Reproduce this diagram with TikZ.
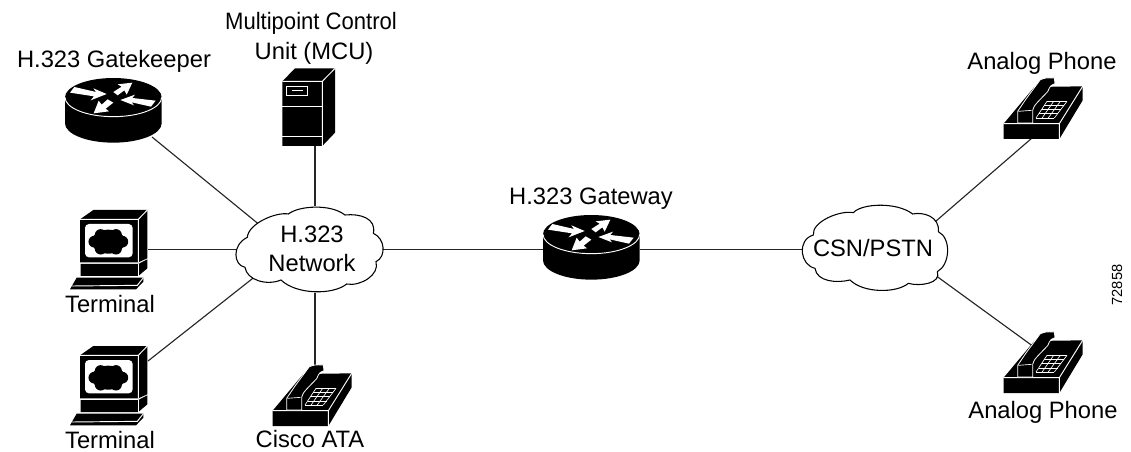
\documentclass[tikz,border=0pt]{standalone}
\usepackage{fontspec}
\setmainfont{Liberation Sans}
\tikzset{
  iconbox/.style={inner sep=0pt,outer sep=0pt},
  link/.style={line width=.85pt,draw=black!85},
  cloudline/.style={line width=.8pt,draw=black,fill=white},
  lab/.style={anchor=base,inner sep=0pt,font=\fontsize{17.8}{20}\selectfont},
  local/.style={x=.25pt,y=-.25pt},
  wl/.style={draw=white,line width=.7pt}
}
\newcommand\routericon[2]{\begin{scope}[shift={(#1,#2)},local]
  \fill[black] (75,82) .. controls (75,50) and (140,24) .. (220,24) .. controls (300,24) and (365,50) .. (365,82) -- (365,160) .. controls (365,192) and (300,218) .. (220,218) .. controls (140,218) and (75,192) .. (75,160) -- cycle;
  \draw[wl] (75,82) .. controls (75,114) and (140,140) .. (220,140) .. controls (300,140) and (365,114) .. (365,82);
  \fill[white] (90,68) -- (103,51) -- (168,66) -- (160,55) -- (200,72) -- (152,91) -- (162,79) -- cycle;
  \fill[white] (220,66) -- (245,50) -- (233,43) -- (277,38) -- (260,74) -- (253,61) -- (233,76) -- cycle;
  \fill[white] (203,88) -- (220,98) -- (197,116) -- (207,124) -- (161,130) -- (176,92) -- (185,104) -- cycle;
  \fill[white] (347,92) -- (333,110) -- (275,97) -- (282,106) -- (241,90) -- (285,74) -- (277,84) -- cycle;
\end{scope}}
\newcommand\termicon[2]{\begin{scope}[shift={(#1,#2)},local]
  \fill[black] (60,58) -- (100,30) -- (262,30) -- (262,175) -- (235,187) -- (60,187) -- cycle;
  \draw[wl] (235,58) -- (262,30) (60,58) -- (235,58) -- (235,187);
  \fill[white,rounded corners=3pt] (75,72) rectangle (218,172);
  \fill[black] (145,125) ellipse [x radius=12.5pt,y radius=9pt];
  \foreach \a/\b in {103/125,122/105,168/105,187/125,168/146,122/146}
    \fill[black] (\a,\b) circle [radius=4.4pt];
  \fill[black] (62,192) -- (235,192) -- (262,178) -- (262,205) -- (235,228) -- (62,228) -- cycle;
  \draw[wl] (235,192) -- (235,228);
  \fill[black] (50,233) -- (250,233) -- (250,245) -- (228,268) -- (30,268) -- cycle;
  \draw[wl] (36,258) -- (232,256) -- (250,233);
\end{scope}}
\newcommand\phoneicon[2]{\begin{scope}[shift={(#1,#2)},local]
  \fill[black] (38,182) -- (130,72) -- (275,70) -- (275,112) -- (205,228) -- (38,228) -- cycle;
  \draw[wl] (38,182) -- (205,182) -- (275,70) (205,182) -- (205,228);
  \filldraw[fill=black,draw=white,line width=.6pt] (148,50) .. controls (165,44) .. (190,45) -- (192,62) .. controls (178,68) .. (170,86) -- (145,112) .. controls (130,128) .. (125,142) -- (125,180) -- (80,180) -- (80,145) -- (105,108) -- cycle;
  \draw[wl,line width=.5pt] (82,145) -- (122,142);
  \foreach \t in {0,.25,.5,.75,1}
    \draw[wl,line width=.5pt] ({135+33*\t},{165-50*\t}) -- ({190+38*\t},{165-50*\t});
  \foreach \u in {0,.3333,.6667,1}
    \draw[wl,line width=.5pt] ({135+55*\u},165) -- ({168+60*\u},115);
\end{scope}}
\begin{document}
\begin{tikzpicture}[x=.75pt,y=-.75pt]
\useasboundingbox (0,0) rectangle (1131,452);
% anchor nodes
\node[iconbox,minimum width=57.75pt,minimum height=39.75pt] (gk) at (113.5,110.5) {};
\node[iconbox,minimum width=30pt,minimum height=58.5pt] (mcu) at (315,107) {};
\node[iconbox,minimum width=57pt,minimum height=45pt] (t1) at (110,249.5) {};
\node[iconbox,minimum width=57pt,minimum height=45pt] (t2) at (110,391) {};
\node[iconbox,minimum width=58pt,minimum height=43.5pt] (ata) at (315,396) {};
\node[iconbox,minimum width=75pt,minimum height=64.5pt] (net) at (315,249.5) {};
\node[iconbox,minimum width=72.75pt,minimum height=45pt] (gw) at (591.5,249.5) {};
\node[iconbox,minimum width=67.5pt,minimum height=64.5pt] (csn) at (875,249.5) {};
\node[iconbox,minimum width=52.5pt,minimum height=43.5pt] (ap1) at (1032,109) {};
\node[iconbox,minimum width=52.5pt,minimum height=42pt] (ap2) at (1034,375) {};
% connectors
\draw[link] (gk.south east) -- (net.158.4);
\draw[link] (mcu.south) -- (net.north);
\draw[link] (t1.east) -- (net.west);
\draw[link] (t2.north east) -- (net.201.3);
\draw[link] (ata.north) -- (net.south);
\draw[link] (net.east) -- (gw.west);
\draw[link] (gw.east) -- (csn.west);
\draw[link] (csn.18.8) -- (ap1.south);
\draw[link] (csn.-18.7) -- (ap2.north);
% clouds
\begin{scope}[shift={(220,180)},local]
\draw[cloudline] (205,102) .. controls (235,78) and (330,70) .. (375,105) .. controls (420,100) and (470,115) .. (460,160) .. controls (495,175) and (500,230) .. (468,245) .. controls (480,285) and (420,320) .. (380,312) .. controls (340,345) and (230,345) .. (183,300) .. controls (140,318) and (80,300) .. (75,262) .. controls (40,255) and (35,195) .. (82,172) .. controls (85,130) and (170,95) .. (205,102) -- cycle;
\end{scope}
\begin{scope}[shift={(780,190)},local]
\draw[cloudline] (220,68) .. controls (245,40) and (350,35) .. (398,72) .. controls (430,65) and (480,80) .. (475,125) .. controls (515,145) and (510,225) .. (472,245) .. controls (485,280) and (420,290) .. (385,280) .. controls (350,310) and (250,310) .. (210,270) .. controls (170,280) and (110,275) .. (105,235) .. controls (60,225) and (50,150) .. (100,135) .. controls (95,95) and (180,60) .. (220,68) -- cycle;
\end{scope}
% icons
\routericon{40}{70}
\routericon{518}{207}
\begin{scope}[shift={(270,40)},local]
  \fill[black] (37,124) -- (75,85) -- (195,85) -- (195,278) -- (157,318) -- (37,318) -- cycle;
  \draw[wl] (37,124) -- (157,124) -- (195,85) (157,124) -- (157,318);
  \draw[wl] (37,198) -- (157,198) (37,288) -- (157,288);
  \draw[wl] (48,138) rectangle (113,165);
  \draw[wl] (65,152) -- (100,152);
\end{scope}
\termicon{60}{200}
\termicon{60}{336}
\phoneicon{260}{350}
\phoneicon{991}{63}
\phoneicon{991}{317}
% labels
\node[lab] (l1) at (114,68) {H.323 Gatekeeper};
\node[lab,xscale=.93] (l2) at (311,30) {Multipoint Control};
\node[lab] (l3) at (314,60) {Unit (MCU)};
\node[lab] (l4) at (110,312) {Terminal};
\node[lab] (l5) at (110,448) {Terminal};
\node[lab] (l6) at (312,243) {H.323};
\node[lab] (l7) at (312,272) {Network};
\node[lab] (l8) at (310,447) {Cisco ATA};
\node[lab] (l9) at (591,205) {H.323 Gateway};
\node[lab] (l10) at (873,257) {CSN/PSTN};
\node[lab] (l11) at (1042,70) {Analog Phone};
\node[lab] (l12) at (1043,418) {Analog Phone};
\node[iconbox,rotate=90,font=\fontsize{11}{12}\selectfont] (l13) at (1117,285) {72858};
\end{tikzpicture}
\end{document}
